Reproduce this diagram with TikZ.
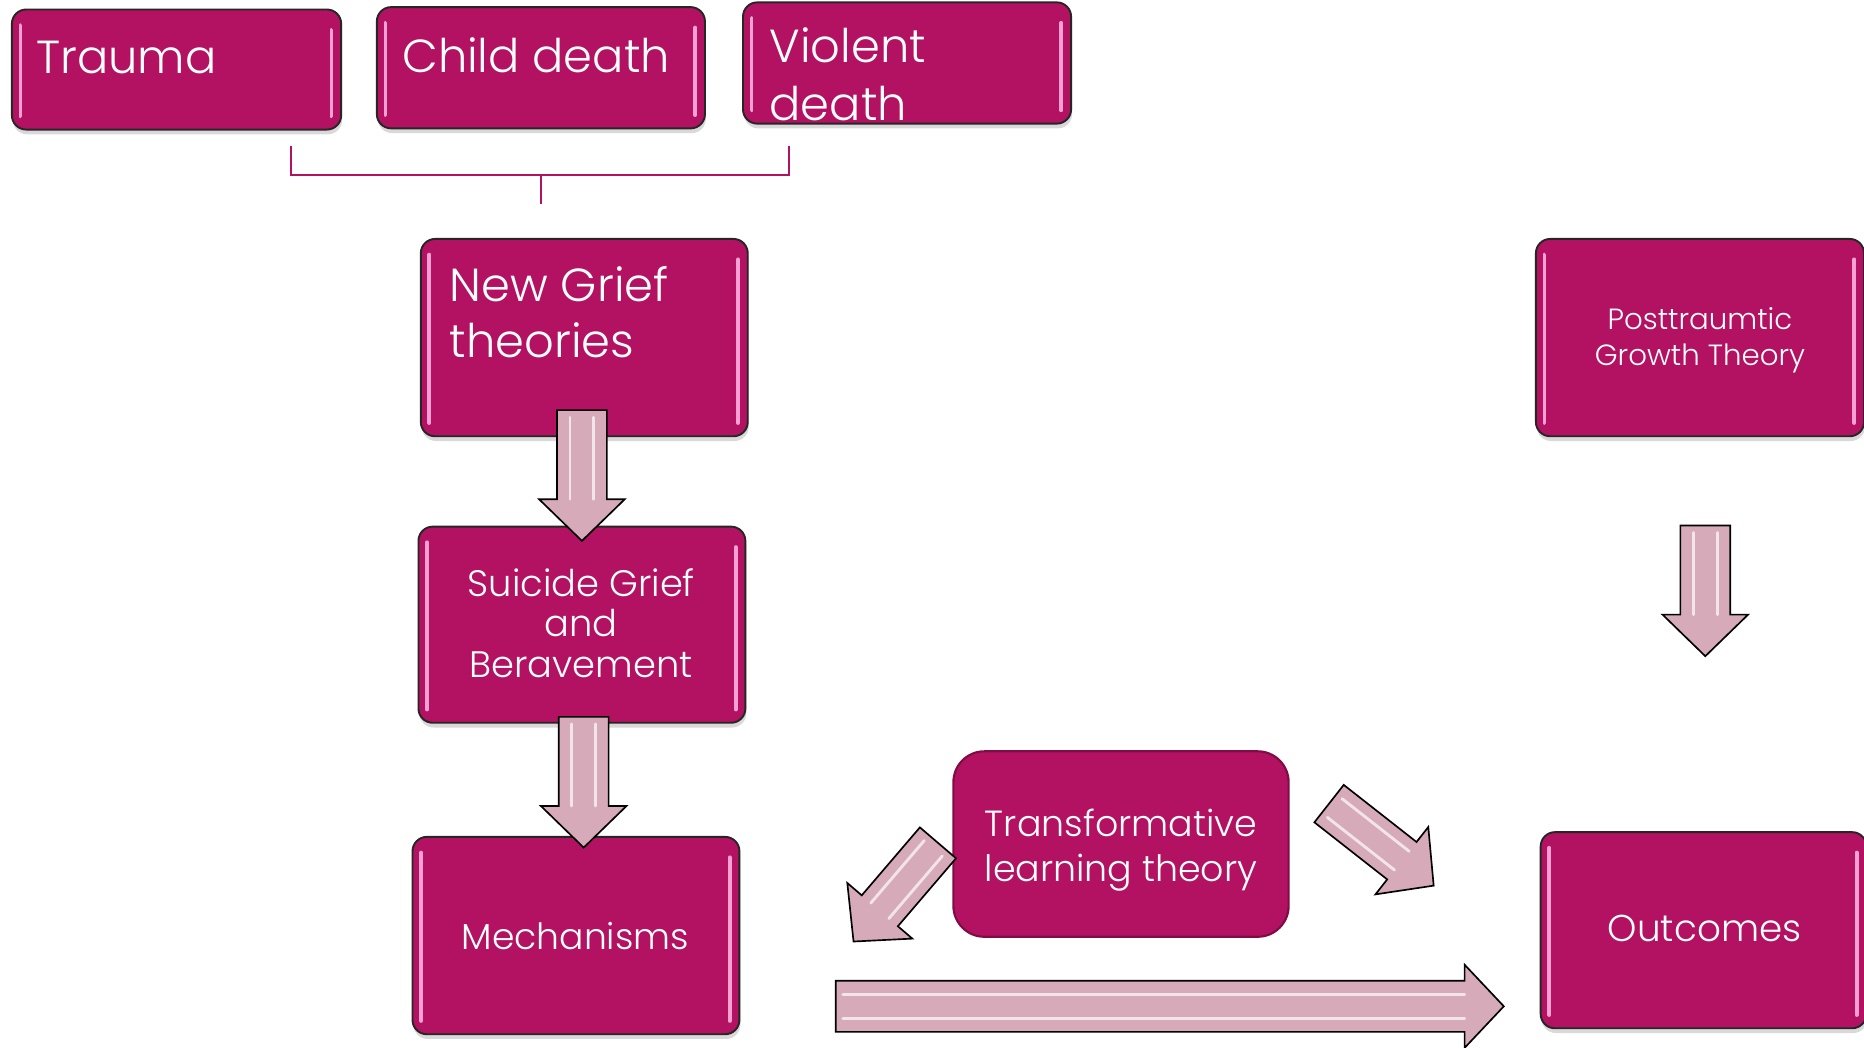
\documentclass[tikz,border=0pt]{standalone}
\usepackage{fontspec}
\setmainfont{Poppins Light}
\usetikzlibrary{calc,shadows}
\definecolor{mag}{RGB}{179,18,98}
\definecolor{arrowpink}{RGB}{214,170,185}
\definecolor{glow}{RGB}{250,160,212}
\definecolor{tlborder}{RGB}{128,12,68}
\tikzset{
 gbox/.style={draw=black!85, line width=0.8pt, fill=mag, rounded corners=6pt, inner sep=0pt,
   drop shadow={opacity=0.3, shadow xshift=0.4pt, shadow yshift=-2pt}},
 tlbox/.style={draw=tlborder, line width=0.9pt, fill=mag, rounded corners=13pt, inner sep=0pt},
 txt/.style={text=white, inner sep=0pt},
 arrowbody/.style={draw=black, line width=0.7pt, fill=arrowpink, line join=miter},
 shine/.style={white, line width=1.2pt, opacity=0.7, line cap=round},
 gloss/.style={glow, line width=1.6pt, line cap=round},
 brk/.style={mag, line width=0.9pt},
}
\newcommand\boxgloss[1]{%
 \draw[gloss] ($(#1.north west)+(4pt,-7pt)$) -- ($(#1.south west)+(4pt,6pt)$);
 \draw[gloss] ($(#1.north east)+(-4.5pt,-9pt)$) -- ($(#1.south east)+(-4.5pt,6pt)$);}
% #1 tail, #2 tip, #3 half shaft width, #4 half head width, #5 head length
\newcommand\blkarrow[5]{%
 \path ($(#2)!#5!(#1)$) coordinate (bb) ($(#1)!3pt!(#2)$) coordinate (tt);
 \draw[arrowbody] ($(#1)!#3!90:(#2)$) -- ($(bb)!#3!90:(#2)$) -- ($(bb)!#4!90:(#2)$) -- (#2)
   -- ($(bb)!#4!-90:(#2)$) -- ($(bb)!#3!-90:(#2)$) -- ($(#1)!#3!-90:(#2)$) -- cycle;
 \draw[shine] ($(tt)!5pt!90:(#2)$) -- ($(bb)!5pt!90:(#2)$);
 \draw[shine] ($(tt)!5pt!-90:(#2)$) -- ($(bb)!5pt!-90:(#2)$);}
\begin{document}
\begin{tikzpicture}[x=0.5pt,y=-0.5pt]
\useasboundingbox (0,0) rectangle (1568,881);
% boxes
\node[gbox, minimum width=138.5pt, minimum height=50.5pt] (tr) at (148.5,58.5) {};
\node[gbox, minimum width=138pt, minimum height=51pt] (cd) at (455,57) {};
\node[gbox, minimum width=138pt, minimum height=51pt] (vd) at (763,53) {};
\node[gbox, minimum width=137.5pt, minimum height=83pt] (ng) at (491.5,284) {};
\node[gbox, minimum width=137.5pt, minimum height=82.5pt] (sg) at (489.5,525.5) {};
\node[gbox, minimum width=137.5pt, minimum height=83pt] (me) at (484.5,787) {};
\node[tlbox, minimum width=141pt, minimum height=78pt] (tl) at (943,710) {};
\node[gbox, minimum width=138pt, minimum height=83pt] (pt) at (1430,284) {};
\node[gbox, minimum width=137pt, minimum height=82.5pt] (oc) at (1433,782.5) {};
\foreach \b in {tr,cd,vd,ng,sg,me,pt,oc}{\boxgloss{\b}}
% bracket
\coordinate (bl) at (245,123);
\coordinate (br) at (664,123);
\coordinate (bm) at (455,147);
\coordinate (bd) at (455,172);
\draw[brk] (bl) -- (245,147) -- (664,147) -- (br);
\draw[brk] (bm) -- (bd);
% texts
\node[txt, anchor=base west, font=\fontsize{19.5}{24}\selectfont] (trt) at (30,62) {Trauma};
\node[txt, anchor=base west, font=\fontsize{19.5}{24}\selectfont] (cdt) at (338,61) {Child death};
\node[txt, anchor=base west, font=\fontsize{19.5}{24}\selectfont] (vdt1) at (647,53) {Violent};
\node[txt, anchor=base west, font=\fontsize{19.5}{24}\selectfont] (vdt2) at (647,101) {death};
\node[txt, anchor=base west, font=\fontsize{19.5}{24}\selectfont] (ngt1) at (378,254) {New Grief};
\node[txt, anchor=base west, font=\fontsize{19.5}{24}\selectfont] (ngt2) at (378,301) {theories};
\node[txt, align=center, font=\fontsize{15.5}{17}\selectfont] (sgt) at (489,524) {Suicide Grief\\and\\Beravement};
\node[txt, font=\fontsize{15.2}{18}\selectfont] (met) at (484,787) {Mechanisms};
\node[txt, align=center, font=\fontsize{15.3}{19}\selectfont] (tlt) at (943,715) {Transformative\\learning theory};
\node[txt, align=center, font=\fontsize{12.3}{15}\selectfont] (ptt) at (1430,286) {Posttraumtic\\Growth Theory};
\node[txt, font=\fontsize{15.7}{18}\selectfont] (oct) at (1434,781) {Outcomes};
% block arrows
\coordinate (a1t) at (489.5,345); \coordinate (a1h) at (489.5,455);
\coordinate (a2t) at (491,603);   \coordinate (a2h) at (491,713);
\coordinate (a3t) at (1434.5,442); \coordinate (a3h) at (1434.5,552);
\coordinate (a4t) at (703,846.5); \coordinate (a4h) at (1265,846.5);
\coordinate (a5t) at (789,709);   \coordinate (a5h) at (718,792);
\coordinate (a6t) at (1118,676);  \coordinate (a6h) at (1206,745);
\blkarrow{a1t}{a1h}{10.5pt}{18pt}{17.5pt}
\blkarrow{a2t}{a2h}{10.5pt}{18pt}{17.5pt}
\blkarrow{a3t}{a3h}{10.5pt}{18pt}{17.5pt}
\blkarrow{a4t}{a4h}{10.75pt}{17.5pt}{16.5pt}
\blkarrow{a5t}{a5h}{10pt}{18pt}{17pt}
\blkarrow{a6t}{a6h}{10pt}{18pt}{17pt}
\end{tikzpicture}
\end{document}
